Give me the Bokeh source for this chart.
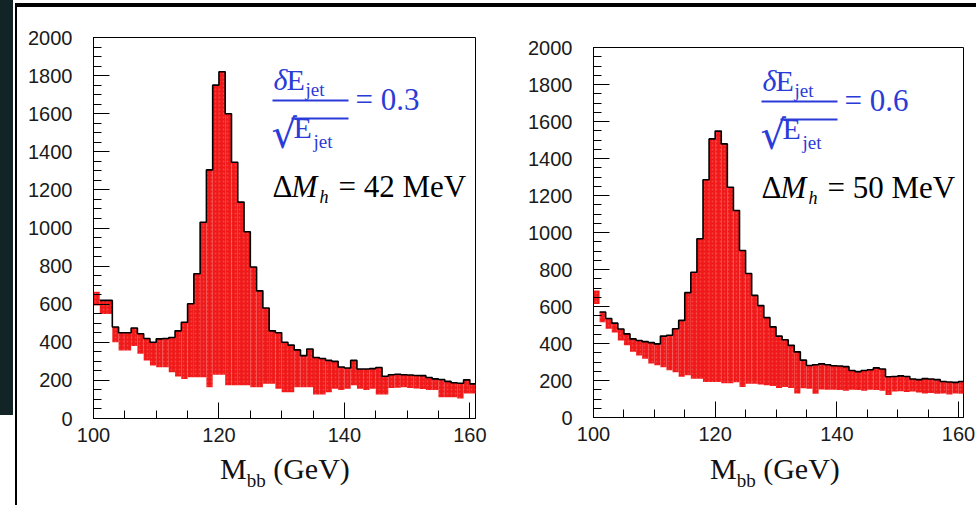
from bokeh.plotting import figure
from bokeh.layouts import row, column
from bokeh.models import Div, Label, SingleIntervalTicker
from bokeh.embed import file_html
from bokeh.resources import INLINE

# ---- data (bin low edges in GeV, 1 GeV bins) ----
bin_low = list(range(100, 161))

upper_03 = [665, 620, 620, 480, 450, 450, 475, 445, 420, 400,
            418, 420, 425, 460, 505, 602, 760, 1030, 1305, 1750,
            1820, 1600, 1345, 1136, 980, 795, 670, 580, 460, 450,
            400, 385, 360, 330, 365, 320, 315, 305, 300, 270,
            265, 305, 260, 260, 262, 268, 222, 230, 232, 230,
            228, 226, 225, 215, 208, 205, 195, 188, 185, 203,
            182]
lower_03 = [593, 549, 549, 400, 357, 357, 380, 340, 304, 278,
            269, 269, 243, 220, 208, 217, 217, 217, 164, 230,
            230, 175, 175, 175, 175, 164, 164, 182, 182, 156,
            138, 138, 164, 164, 164, 126, 126, 138, 156, 150,
            156, 175, 156, 150, 156, 126, 126, 160, 162, 164,
            160, 158, 155, 150, 150, 112, 112, 112, 105, 131,
            131]

upper_06 = [686, 570, 535, 510, 478, 452, 425, 416, 410, 405,
            398, 440, 445, 480, 525, 675, 785, 966, 1285, 1506,
            1548, 1479, 1245, 1119, 903, 778, 660, 605, 540, 490,
            440, 420, 390, 355, 310, 281, 285, 290, 285, 280,
            278, 275, 254, 248, 254, 258, 268, 262, 220, 222,
            225, 222, 208, 205, 210, 208, 205, 195, 192, 190,
            195]
lower_06 = [614, 515, 480, 460, 416, 390, 355, 335, 318, 292,
            282, 272, 255, 245, 220, 228, 210, 210, 192, 192,
            192, 185, 185, 190, 165, 182, 182, 178, 175, 170,
            160, 165, 160, 130, 158, 155, 128, 152, 150, 150,
            148, 145, 150, 148, 145, 150, 148, 145, 122, 140,
            142, 138, 140, 135, 130, 132, 128, 130, 125, 130,
            128]

resolution_labels = ["0.3", "0.6"]
mass_labels = ["42 MeV", "50 MeV"]

BLUE = "#2a3bd8"
RED = "#f01818"
SERIF = "Liberation Serif"
SANS = "Liberation Sans"


def make_panel(upper, lower, res, dm, W, H, bl, br, bt, bb, xmax,
               anchor, page_left, page_top):
    p = figure(width=W, height=H, x_range=(100, xmax), y_range=(0, 2000),
               output_backend="svg", toolbar_location=None, title=None,
               min_border_left=bl, min_border_right=br,
               min_border_top=bt, min_border_bottom=bb)
    p.background_fill_color = "white"
    p.border_fill_color = "white"
    p.outline_line_color = "black"
    p.outline_line_width = 1
    p.xgrid.visible = False
    p.ygrid.visible = False

    hi = [b + 1 for b in bin_low]
    p.quad(left=bin_low, right=hi, bottom=lower, top=upper,
           fill_color=RED, line_color=None,
           hatch_pattern="dot", hatch_color="white", hatch_alpha=0.18,
           hatch_scale=4, hatch_weight=1)
    xs = bin_low[1:] + [hi[-1]]
    ys = upper[1:] + [upper[-1]]
    p.step(x=xs, y=ys, mode="after", line_color="black", line_width=1.6)

    # axes
    p.xaxis.ticker = SingleIntervalTicker(interval=20, num_minor_ticks=4)
    p.yaxis.ticker = SingleIntervalTicker(interval=200, num_minor_ticks=4)
    for ax in (p.xaxis[0], p.yaxis[0]):
        ax.axis_line_color = "black"
        ax.major_tick_line_color = "black"
        ax.minor_tick_line_color = "black"
        ax.major_tick_out = 0
        ax.minor_tick_out = 0
        ax.major_tick_in = 16
        ax.minor_tick_in = 8
        ax.major_label_text_font = SANS
        ax.major_label_text_font_size = "20px"
        ax.major_label_text_color = "#1a1a1a"
    p.xaxis.major_label_standoff = 9
    p.yaxis.major_label_standoff = 21

    # page px -> data conversion for annotation placement
    FL = page_left + bl
    FT = page_top + bt
    fw = W - bl - br
    fh = H - bt - bb
    ppx = fw / (xmax - 100)
    ppy = fh / 2000.0
    FB = FT + fh

    def put(px, py, text, size, style="normal", color=BLUE, font=SERIF):
        py = py - 0.37 * size
        p.add_layout(Label(x=100 + (px - FL) / ppx, y=(FB - py) / ppy,
                           text=text, text_font=font,
                           text_font_size="%dpx" % size, text_font_style=style,
                           text_color=color, text_align="left",
                           text_baseline="alphabetic"))

    ax0, ay0 = anchor
    put(ax0, ay0, "\u03b4", 30, "italic")
    put(ax0 + 13, ay0, "E", 30)
    put(ax0 + 32, ay0 + 6, "jet", 19)
    put(ax0 - 2, ay0 + 58, "\u221a", 40, font="DejaVu Serif")
    put(ax0 + 20, ay0 + 48, "E", 30)
    put(ax0 + 40, ay0 + 58, "jet", 19)
    put(ax0 + 82, ay0 + 20, "= " + res, 31)
    # fraction bar and root overline
    bx = [100 + (ax0 - 1 - FL) / ppx, 100 + (ax0 + 18 - FL) / ppx]
    bx1 = [100 + (ax0 + 75 - FL) / ppx] * 2
    by = [(FB - (ay0 + 10)) / ppy, (FB - (ay0 + 28)) / ppy]
    p.segment(x0=bx, y0=by, x1=bx1, y1=by, line_color=BLUE, line_width=2)

    put(ax0 - 1, ay0 + 107, "\u0394", 31, color="black")
    put(ax0 + 18, ay0 + 107, "M", 31, "italic", color="black")
    put(ax0 + 46, ay0 + 113, "h", 18, "italic", color="black")
    put(ax0 + 65, ay0 + 107, "= " + dm, 31, color="black")
    return p


def x_title(width, pad_left):
    html = ('<div style="margin:0;padding:0 0 0 %dpx;font-family:\'Liberation Serif\';'
            'font-size:30px;line-height:28px;color:#111;white-space:nowrap;">'
            'M<span style="font-size:19px;position:relative;top:8px;">bb</span>'
            ' (GeV)</div>' % pad_left)
    return Div(text=html, width=width, height=50, margin=0,
               styles={"background-color": "white"})


left = make_panel(upper_03, lower_03, resolution_labels[0], mass_labels[0],
                  W=473, H=448, bl=76, br=15, bt=30, bb=37, xmax=160.9,
                  anchor=(273, 90), page_left=17, page_top=7)
right = make_panel(upper_06, lower_06, resolution_labels[1], mass_labels[1],
                   W=486, H=448, bl=103, br=13, bt=40, bb=38, xmax=160.82,
                   anchor=(762, 91), page_left=490, page_top=7)

strip = Div(text="", width=13, height=415, margin=0,
            styles={"background-color": "#132426"})
gap = Div(text="", width=2, height=498, margin=0,
          styles={"background-color": "white"})
vline = Div(text="", width=2, height=498, margin=0,
            styles={"background-color": "black"})
topspace = Div(text="", width=961, height=3, margin=0,
               styles={"background-color": "white"})
hline = Div(text="", width=961, height=4, margin=0,
            styles={"background-color": "black"})

left_col = column(left, x_title(473, 203), spacing=0)
right_col = column(right, x_title(486, 220), spacing=0)
body = column(topspace, hline, row(vline, left_col, right_col, spacing=0), spacing=0)
page = row(strip, gap, body, spacing=0)

open("out.html", "w").write(file_html(page, INLINE))
